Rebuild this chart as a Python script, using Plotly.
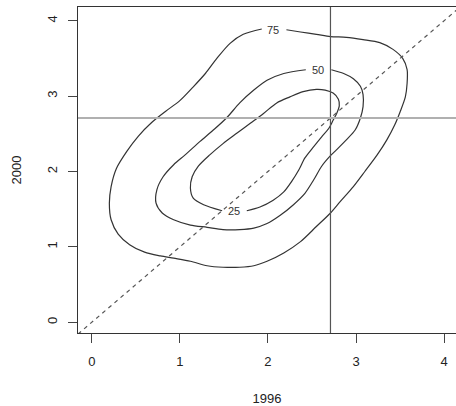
import plotly.graph_objects as go

# contour levels (percent) and their label positions
levels = ["75", "50", "25"]
label_x = [2.06, 2.57, 1.61]
label_y = [3.88, 3.34, 1.47]

# contour paths (each starts and ends at its label gap)
c75_x = [2.21, 2.37, 2.55, 2.71, 2.89, 3.08, 3.27, 3.42, 3.53, 3.58, 3.58, 3.56, 3.50, 3.44, 3.35,
         3.24, 3.10, 2.97, 2.82, 2.71, 2.55, 2.37, 2.18, 1.99, 1.84, 1.68, 1.49, 1.31, 1.12, 0.93,
         0.78, 0.60, 0.43, 0.30, 0.22, 0.20, 0.22, 0.28, 0.40, 0.53, 0.68, 0.84, 1.00, 1.15, 1.29,
         1.42, 1.57, 1.72, 1.93]
c75_y = [3.88, 3.85, 3.82, 3.79, 3.78, 3.75, 3.71, 3.62, 3.50, 3.35, 3.17, 2.99, 2.79, 2.62, 2.42,
         2.22, 2.00, 1.80, 1.60, 1.45, 1.27, 1.07, 0.92, 0.81, 0.75, 0.73, 0.73, 0.75, 0.81, 0.85,
         0.88, 0.93, 1.03, 1.17, 1.36, 1.58, 1.80, 2.04, 2.27, 2.47, 2.65, 2.80, 2.94, 3.12, 3.30,
         3.50, 3.70, 3.82, 3.89]

c50_x = [2.72, 2.86, 2.97, 3.05, 3.08, 3.08, 3.05, 2.99, 2.89, 2.78, 2.71, 2.61, 2.52, 2.42, 2.29,
         2.14, 1.99, 1.84, 1.68, 1.49, 1.31, 1.12, 0.93, 0.80, 0.73, 0.74, 0.81, 0.93, 1.06, 1.23,
         1.38, 1.53, 1.68, 1.84, 1.99, 2.18, 2.43]
c50_y = [3.35, 3.30, 3.23, 3.13, 3.02, 2.86, 2.71, 2.55, 2.42, 2.29, 2.21, 2.07, 1.89, 1.71, 1.56,
         1.42, 1.31, 1.25, 1.23, 1.23, 1.26, 1.29, 1.36, 1.45, 1.58, 1.76, 1.93, 2.09, 2.22, 2.40,
         2.55, 2.71, 2.91, 3.08, 3.21, 3.30, 3.35]

c25_x = [1.76, 1.91, 2.06, 2.18, 2.27, 2.35, 2.42, 2.52, 2.61, 2.69, 2.74, 2.78, 2.81, 2.80, 2.74,
         2.65, 2.55, 2.40, 2.25, 2.10, 1.95, 1.80, 1.65, 1.49, 1.34, 1.21, 1.14, 1.12, 1.15, 1.27,
         1.48]
c25_y = [1.48, 1.53, 1.62, 1.73, 1.87, 2.02, 2.18, 2.33, 2.46, 2.57, 2.68, 2.77, 2.87, 2.96, 3.04,
         3.08, 3.09, 3.06, 2.99, 2.91, 2.77, 2.64, 2.51, 2.37, 2.22, 2.07, 1.93, 1.78, 1.65, 1.56,
         1.48]

ref_1996 = 2.71
ref_2000 = 2.71
diag_slope = 1

x_range = [-0.156, 4.135]
y_range = [-0.142, 4.182]
ticks = [0, 1, 2, 3, 4]

fig = go.Figure()

for cx, cy in [(c75_x, c75_y), (c50_x, c50_y), (c25_x, c25_y)]:
    fig.add_trace(go.Scatter(x=cx, y=cy, mode="lines",
                             line=dict(color="#333333", width=1.2, shape="spline", smoothing=0.8),
                             hoverinfo="skip"))

# y = x reference line across the whole plot
dx = [x_range[0], x_range[1] + 0.2]
fig.add_trace(go.Scatter(x=dx, y=[diag_slope * v for v in dx], mode="lines",
                         line=dict(color="#555555", width=1.2, dash="4px,4px"),
                         hoverinfo="skip"))

fig.add_vline(x=ref_1996, line=dict(color="#555555", width=1.2))
fig.add_hline(y=ref_2000, line=dict(color="#b0b0b0", width=2.2))

for t, lx, ly in zip(levels, label_x, label_y):
    fig.add_annotation(x=lx, y=ly, text=t, showarrow=False,
                       font=dict(size=11, color="#333333"))

fig.update_layout(
    width=456, height=406,
    margin=dict(l=78, r=0, t=7, b=73),
    paper_bgcolor="white", plot_bgcolor="white",
    showlegend=False,
    font=dict(family="Liberation Sans, Arial, sans-serif", size=13, color="#222222"),
)
fig.update_xaxes(range=x_range, tickvals=ticks, ticks="outside", ticklen=9, tickcolor="#444444",
                 showgrid=False, zeroline=False, showline=True, linecolor="#333333", linewidth=1,
                 mirror=True, ticklabelstandoff=7,
                 title=dict(text="1996", standoff=27, font=dict(size=13)))
fig.update_yaxes(range=y_range, tickvals=ticks, ticks="outside", ticklen=9, tickcolor="#444444",
                 showgrid=False, zeroline=False, showline=True, linecolor="#333333", linewidth=1,
                 tickangle=-90, ticklabelstandoff=6,
                 title=dict(text="2000", standoff=20, font=dict(size=13)))

# drop the page's default body margin so the figure sits at the window origin
fig.write_html("out.html", config={"displayModeBar": False},
               post_script="document.body.style.margin='0';document.body.style.overflow='hidden';")
